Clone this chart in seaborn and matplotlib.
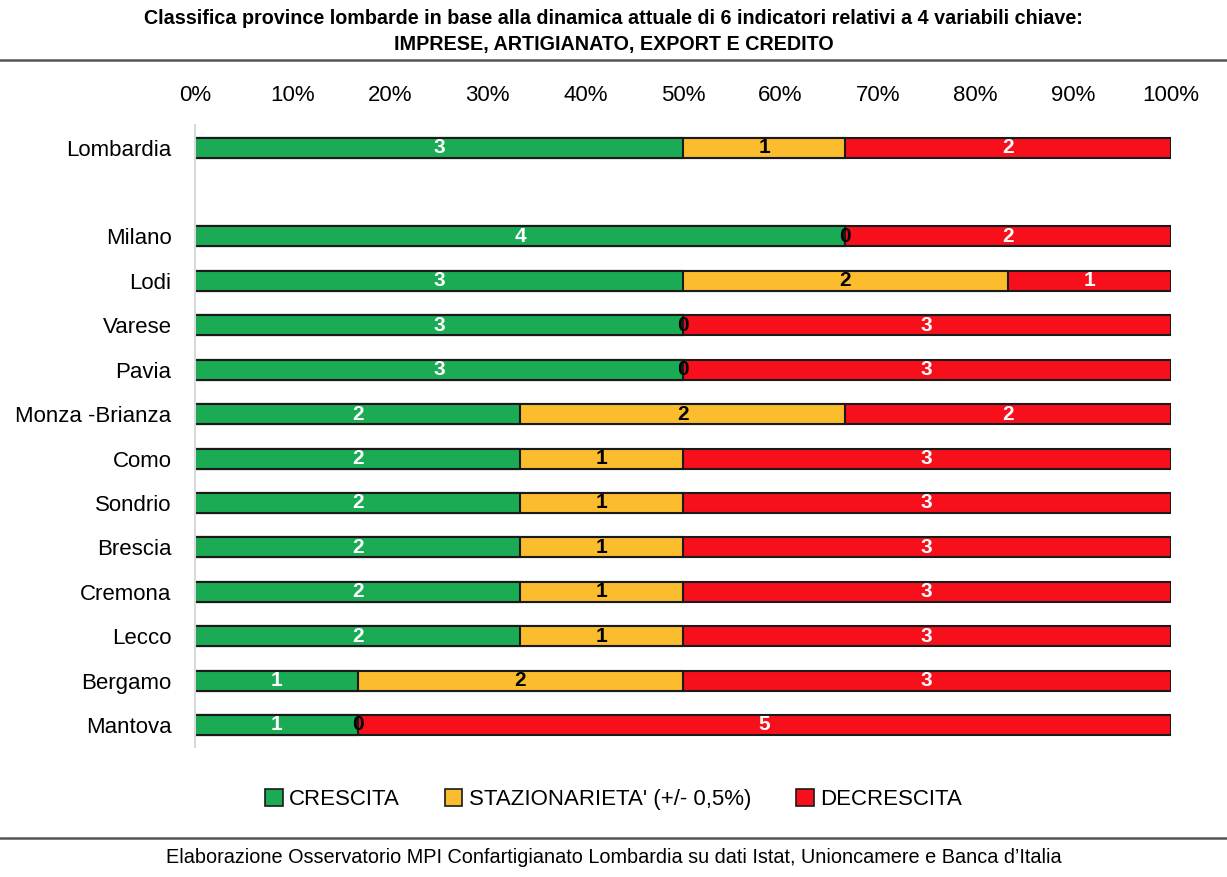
import pandas as pd
import seaborn as sns
import matplotlib.pyplot as plt
from matplotlib.patches import Patch
from matplotlib.lines import Line2D
from matplotlib.ticker import PercentFormatter


# data: number of indicators (out of 6) per class
province = ["Lombardia", "Milano", "Lodi", "Varese", "Pavia", "Monza -Brianza", "Como",
            "Sondrio", "Brescia", "Cremona", "Lecco", "Bergamo", "Mantova"]
crescita = [3, 4, 3, 3, 3, 2, 2, 2, 2, 2, 2, 1, 1]
stazionarieta = [1, 0, 2, 0, 0, 2, 1, 1, 1, 1, 1, 2, 0]
decrescita = [2, 2, 1, 3, 3, 2, 3, 3, 3, 3, 3, 3, 5]
series_names = ["CRESCITA", "STAZIONARIETA' (+/- 0,5%)", "DECRESCITA"]
colors = ["#1bab54", "#fbbd2e", "#f70f1c"]

sns.set_theme(style="white")
plt.rcParams["font.family"] = ["Liberation Sans Narrow", "Liberation Sans", "DejaVu Sans"]
plt.rcParams["text.color"] = "black"
plt.rcParams["xtick.color"] = "black"
plt.rcParams["ytick.color"] = "black"

df = pd.DataFrame({"prov": province, "g": crescita, "y": stazionarieta, "r": decrescita})
tot = df[["g", "y", "r"]].sum(axis=1)
df["p_g"] = df["g"] / tot * 100
df["p_y"] = df["y"] / tot * 100
df["p_r"] = df["r"] / tot * 100
df["cum_gy"] = df["p_g"] + df["p_y"]
df["cum_all"] = df["cum_gy"] + df["p_r"]

spacer = " "
order = [province[0], spacer] + province[1:]

fig = plt.figure(figsize=(12.27, 8.77), dpi=100)
ax = fig.add_axes([0.159, 0.148, 0.795, 0.709])

# stacked bars drawn as overlapping cumulative bars
for col, c in zip(["cum_all", "cum_gy", "p_g"], colors[::-1]):
    sns.barplot(data=df, x=col, y="prov", order=order, orient="h", color=c,
                edgecolor="#1a1a1a", linewidth=1.5, width=0.45, ax=ax, saturation=1)

pos = {p: i for i, p in enumerate(order)}
for _, row in df.iterrows():
    yy = pos[row["prov"]]
    starts = [0, row["p_g"], row["cum_gy"]]
    widths = [row["p_g"], row["p_y"], row["p_r"]]
    vals = [row["g"], row["y"], row["r"]]
    for k in range(3):
        xc = starts[k] + widths[k] / 2
        col = "white" if (k != 1 and vals[k] > 0) else "black"
        ax.text(xc, yy, str(int(vals[k])), ha="center", va="center", color=col,
                fontsize=15, fontweight="bold")

ax.set_xlim(0, 100)
ax.set_ylim(13.5, -0.5)
ax.xaxis.set_major_formatter(PercentFormatter(decimals=0))
ax.set_xticks(range(0, 101, 10))
ax.xaxis.tick_top()
ax.tick_params(axis="x", length=0, pad=14, labelsize=16)
ax.tick_params(axis="y", length=0, pad=17, labelsize=16)
ax.set_xlabel("")
ax.set_ylabel("")
for s in ["top", "right", "bottom"]:
    ax.spines[s].set_visible(False)
ax.spines["left"].set_color("#d9d9d9")
ax.spines["left"].set_linewidth(1.5)

fig.text(0.5, 0.979, "Classifica province lombarde in base alla dinamica attuale di 6 indicatori relativi a 4 variabili chiave:",
         ha="center", va="center", fontsize=14.2, fontweight="bold")
fig.text(0.5, 0.949, "IMPRESE, ARTIGIANATO, EXPORT E CREDITO",
         ha="center", va="center", fontsize=14.2, fontweight="bold")
fig.add_artist(Line2D([0, 1], [0.932, 0.932], color="#555555", lw=1.8, transform=fig.transFigure))
fig.add_artist(Line2D([0, 1], [0.044, 0.044], color="#555555", lw=1.8, transform=fig.transFigure))
fig.text(0.5, 0.022, "Elaborazione Osservatorio MPI Confartigianato Lombardia su dati Istat, Unioncamere e Banca d\u2019Italia",
         ha="center", va="center", fontsize=14.3)

handles = [Patch(facecolor=c, edgecolor="#1a1a1a", linewidth=1.2) for c in colors]
fig.legend(handles, series_names, loc="center", bbox_to_anchor=(0.5, 0.088), ncol=3,
           frameon=False, fontsize=16, handlelength=0.8, handleheight=0.8,
           handletextpad=0.3, columnspacing=2.0)

fig.savefig("out.png", dpi=100)
